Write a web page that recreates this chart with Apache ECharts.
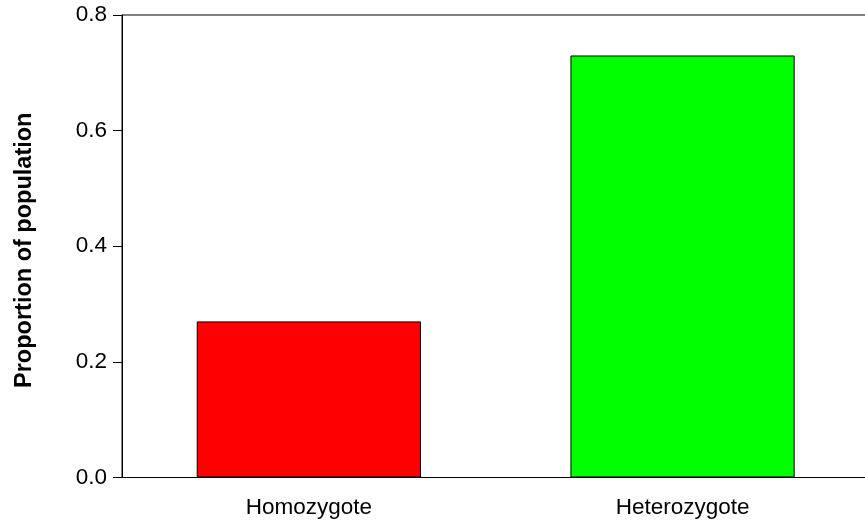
<!DOCTYPE html>
<html lang="en">
<head>
    <meta charset="UTF-8">
    <title>Proportion of population</title>
    <style>
    html, body {
        margin: 0;
        padding: 0;
        background: #fff;
    }
    #main {
        width: 865px;
        height: 521px;
    }
    </style>
</head>
<body>
    <div id="main"></div>
    <script src="https://cdn.jsdelivr.net/npm/echarts@6/dist/echarts.min.js"></script>
    <script>
    // data
    var categories = ['Homozygote', 'Heterozygote'];
    var proportions = [0.27, 0.73];
    var barColors = ['#ff0000', '#00ff00'];
    var yTicks = [0, 0.2, 0.4, 0.6, 0.8];

    var font = 'Liberation Sans, Arial, Helvetica, sans-serif';

    var myChart = echarts.init(document.getElementById('main'));
    var option = {
        animation: false,
        backgroundColor: '#fff',
        grid: {
            left: 122,
            top: 15,
            right: -4.4,
            bottom: 43.5,
            containLabel: false,
            outerBoundsMode: 'none',
            show: true,
            borderColor: '#000',
            borderWidth: 1,
            backgroundColor: 'transparent'
        },
        xAxis: {
            type: 'category',
            data: categories,
            axisLine: { lineStyle: { color: '#000', width: 1 } },
            axisTick: { alignWithLabel: true, length: 9, lineStyle: { color: '#000' } },
            axisLabel: {
                color: '#000',
                fontFamily: font,
                fontSize: 22.5,
                margin: 19
            },
            splitLine: { show: false }
        },
        yAxis: {
            type: 'value',
            min: yTicks[0],
            max: yTicks[yTicks.length - 1],
            interval: 0.2,
            name: 'Proportion of population',
            nameLocation: 'middle',
            nameGap: 85,
            nameTextStyle: {
                color: '#000',
                fontFamily: font,
                fontSize: 23.5,
                fontWeight: 'bold',
                padding: [0, 8, 0, 0]
            },
            axisLine: { show: true, lineStyle: { color: '#000', width: 1 } },
            axisTick: { show: true, length: 9, lineStyle: { color: '#000' } },
            axisLabel: {
                color: '#000',
                fontFamily: font,
                fontSize: 22.5,
                margin: 15,
                formatter: function (v) { return v.toFixed(1); }
            },
            splitLine: { show: false }
        },
        series: [{
            type: 'bar',
            barWidth: '60%',
            data: proportions.map(function (v, i) {
                return {
                    value: v,
                    itemStyle: { color: barColors[i] }
                };
            }),
            itemStyle: {
                borderColor: '#000',
                borderWidth: 1
            }
        }]
    };
    myChart.setOption(option);
    </script>
</body>
</html>
